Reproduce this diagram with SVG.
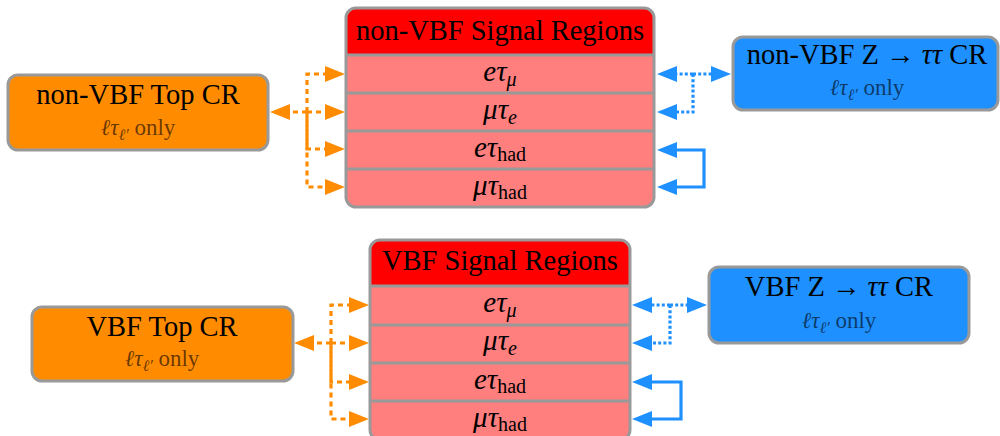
<svg xmlns="http://www.w3.org/2000/svg" width="1000" height="436" viewBox="0 0 1000 436">
<style>
.box{stroke:#999;stroke-width:3}
.orange{fill:#FF8C00}
.blue{fill:#1E90FF}
.row{fill:#FF7F7F}
.hdr{fill:#FF0000}
.sep{stroke:#999;stroke-width:3}
text{font-family:"Liberation Serif","DejaVu Serif",serif;fill:#000}
.title{font-size:28.5px;text-anchor:middle}
.sub{font-size:23px;text-anchor:middle;fill-opacity:0.6}
.lab{font-size:29px;text-anchor:middle}
.it{font-style:italic}
.od{fill:none;stroke:#FF8C00;stroke-width:3.2;stroke-dasharray:5 4}
.bd{fill:none;stroke:#1E90FF;stroke-width:3.2;stroke-dasharray:3 2.2}
.bs{fill:none;stroke:#1E90FF;stroke-width:3.2}
</style>
<defs>
<marker id="ao" markerUnits="userSpaceOnUse" markerWidth="20" markerHeight="16" refX="14" refY="8" orient="auto-start-reverse"><path d="M0,0 L20,8 L0,16 Z" fill="#FF8C00"/></marker>
<marker id="ab" markerUnits="userSpaceOnUse" markerWidth="20" markerHeight="16" refX="14" refY="8" orient="auto-start-reverse"><path d="M0,0 L20,8 L0,16 Z" fill="#1E90FF"/></marker>
</defs>

<g id="connectors">
  <!-- top orange -->
  <path class="od" d="M307,112 H276" marker-end="url(#ao)"/>
  <path class="od" d="M307,112 V74 H339" marker-end="url(#ao)"/>
  <path class="od" d="M307,112 H339" marker-end="url(#ao)"/>
  <path class="od" d="M307,112 V149 H339" marker-end="url(#ao)"/>
  <path class="od" d="M307,112 V187 H339" marker-end="url(#ao)" stroke-dashoffset="4.5"/>
  <!-- top blue -->
  <path class="bd" d="M693,74 H663" marker-end="url(#ab)"/>
  <path class="bd" d="M693,74 H725" marker-end="url(#ab)"/>
  <path class="bd" d="M693,74 V112 H663" marker-end="url(#ab)"/>
  <path class="bs" d="M663,150 H704 V187 H663" marker-start="url(#ab)" marker-end="url(#ab)"/>
  <!-- bottom orange -->
  <path class="od" d="M331,343 H300" marker-end="url(#ao)"/>
  <path class="od" d="M331,343 V305 H363" marker-end="url(#ao)"/>
  <path class="od" d="M331,343 H363" marker-end="url(#ao)"/>
  <path class="od" d="M331,343 V382 H363" marker-end="url(#ao)"/>
  <path class="od" d="M331,343 V419 H363" marker-end="url(#ao)" stroke-dashoffset="4.5"/>
  <!-- bottom blue -->
  <path class="bd" d="M670,305 H638" marker-end="url(#ab)"/>
  <path class="bd" d="M670,305 H701" marker-end="url(#ab)"/>
  <path class="bd" d="M670,305 V343 H638" marker-end="url(#ab)"/>
  <path class="bs" d="M638,382 H681 V419 H638" marker-start="url(#ab)" marker-end="url(#ab)"/>
</g>

<g id="nonvbf-sr">
  <rect class="row" x="346" y="8" width="308" height="199" rx="10"/>
  <path class="hdr" d="M346,55 V18 A10,10 0 0 1 356,8 H644 A10,10 0 0 1 654,18 V55 Z"/>
  <line class="sep" x1="346" y1="55" x2="654" y2="55"/>
  <line class="sep" x1="346" y1="93" x2="654" y2="93"/>
  <line class="sep" x1="346" y1="131" x2="654" y2="131"/>
  <line class="sep" x1="346" y1="169" x2="654" y2="169"/>
  <rect class="box" x="346" y="8" width="308" height="199" rx="10" fill="none"/>
  <text class="title" x="500" y="40">non-VBF Signal Regions</text>
  <text class="lab" x="500" y="81"><tspan class="it">eτ</tspan><tspan class="it" font-size="20" dy="5">μ</tspan></text>
  <text class="lab" x="500" y="119"><tspan class="it">μτ</tspan><tspan class="it" font-size="20" dy="5">e</tspan></text>
  <text class="lab" x="500" y="157"><tspan class="it">eτ</tspan><tspan font-size="20" dy="4">had</tspan></text>
  <text class="lab" x="500" y="195"><tspan class="it">μτ</tspan><tspan font-size="20" dy="4">had</tspan></text>
</g>

<g id="vbf-sr">
  <rect class="row" x="370" y="240" width="260" height="200" rx="10"/>
  <path class="hdr" d="M370,286 V250 A10,10 0 0 1 380,240 H620 A10,10 0 0 1 630,250 V286 Z"/>
  <line class="sep" x1="370" y1="286" x2="630" y2="286"/>
  <line class="sep" x1="370" y1="325" x2="630" y2="325"/>
  <line class="sep" x1="370" y1="363" x2="630" y2="363"/>
  <line class="sep" x1="370" y1="401" x2="630" y2="401"/>
  <rect class="box" x="370" y="240" width="260" height="200" rx="10" fill="none"/>
  <text class="title" x="500" y="270">VBF Signal Regions</text>
  <text class="lab" x="500" y="312"><tspan class="it">eτ</tspan><tspan class="it" font-size="20" dy="5">μ</tspan></text>
  <text class="lab" x="500" y="350"><tspan class="it">μτ</tspan><tspan class="it" font-size="20" dy="5">e</tspan></text>
  <text class="lab" x="500" y="389"><tspan class="it">eτ</tspan><tspan font-size="20" dy="4">had</tspan></text>
  <text class="lab" x="500" y="427"><tspan class="it">μτ</tspan><tspan font-size="20" dy="4">had</tspan></text>
</g>

<g id="nonvbf-top-cr">
  <rect class="box orange" x="8" y="75" width="260" height="75" rx="10"/>
  <text class="title" x="138" y="104">non-VBF Top CR</text>
  <text class="sub" x="138" y="135"><tspan class="it">ℓτ</tspan><tspan class="it" font-size="16" dy="5">ℓ′</tspan><tspan dy="-5"> only</tspan></text>
</g>

<g id="nonvbf-z-cr">
  <rect class="box blue" x="733" y="37" width="265" height="73" rx="10"/>
  <text class="title" x="867" y="64">non-VBF Z → <tspan class="it">ττ</tspan> CR</text>
  <text class="sub" x="867" y="95"><tspan class="it">ℓτ</tspan><tspan class="it" font-size="16" dy="5">ℓ′</tspan><tspan dy="-5"> only</tspan></text>
</g>

<g id="vbf-top-cr">
  <rect class="box orange" x="32" y="307" width="261" height="74" rx="10"/>
  <text class="title" x="162" y="336">VBF Top CR</text>
  <text class="sub" x="162" y="366"><tspan class="it">ℓτ</tspan><tspan class="it" font-size="16" dy="5">ℓ′</tspan><tspan dy="-5"> only</tspan></text>
</g>

<g id="vbf-z-cr">
  <rect class="box blue" x="709" y="267" width="260" height="76" rx="10"/>
  <text class="title" x="839" y="296">VBF Z → <tspan class="it">ττ</tspan> CR</text>
  <text class="sub" x="839" y="328"><tspan class="it">ℓτ</tspan><tspan class="it" font-size="16" dy="5">ℓ′</tspan><tspan dy="-5"> only</tspan></text>
</g>
</svg>
